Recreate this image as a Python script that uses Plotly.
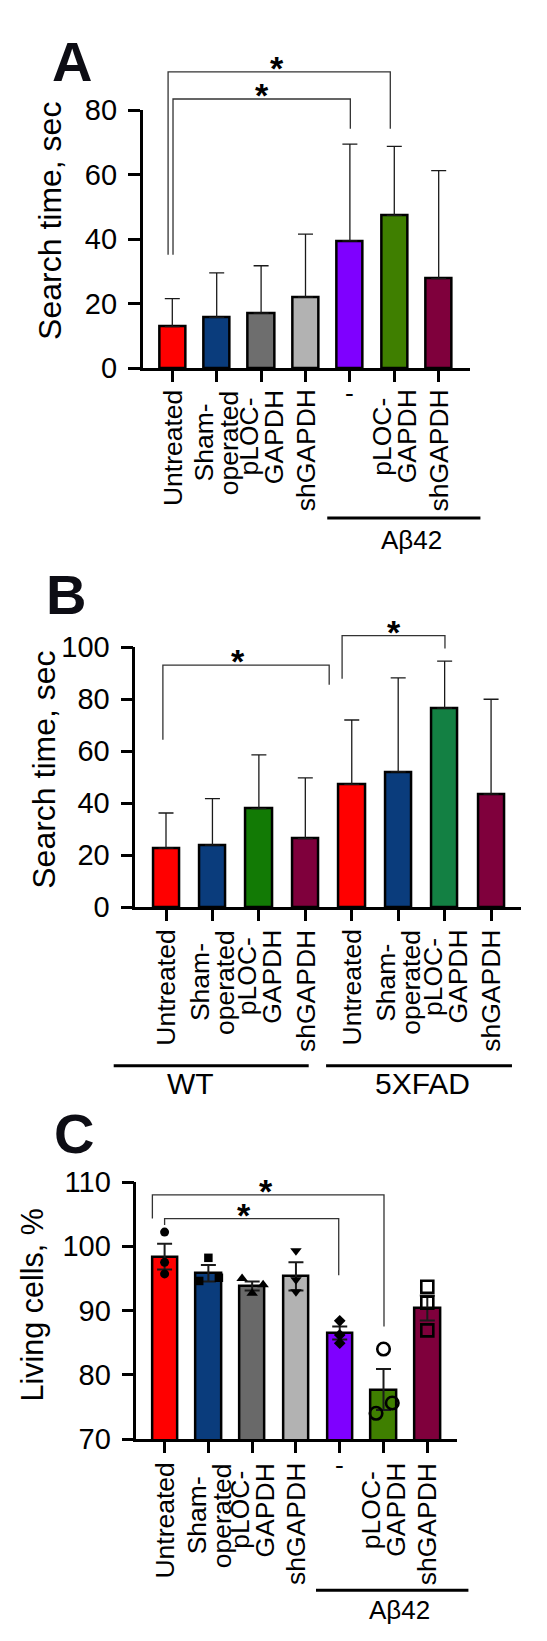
import plotly.graph_objects as go

W, H = 547, 1641
FONT = "Liberation Sans, Arial, sans-serif"

# ---------------- DATA ----------------
# Panel A
a_labels = [["Untreated"], ["Sham-", "operated"], ["pLOC-", "GAPDH"], ["shGAPDH"],
            ["-"], ["pLOC-", "GAPDH"], ["shGAPDH"]]
a_mean = [12.9, 15.8, 17.1, 22.1, 39.5, 47.4, 27.8]
a_upper = [21.6, 29.6, 31.8, 41.6, 69.5, 68.8, 61.3]
a_colors = ["#FF0000", "#0A3C7C", "#6E6E6E", "#B2B2B2", "#7F00FF", "#3F7F00", "#7F003C"]
a_yticks = [0, 20, 40, 60, 80]
a_title = "Search time, sec"
a_groups = [("Aβ42", 3.49, 6.94, 5.39)]
# brackets: x_left, x_right, y_left_end, y_top, y_right_end, star_x
a_brackets = [(-0.095, 4.91, 35.2, 91.9, 74.3, 2.365),
              (0.016, 4.01, 35.2, 83.5, 74.3, 2.01)]

# Panel B
b_labels = [["Untreated"], ["Sham-", "operated"], ["pLOC-", "GAPDH"], ["shGAPDH"],
            ["Untreated"], ["Sham-", "operated"], ["pLOC-", "GAPDH"], ["shGAPDH"]]
b_mean = [22.7, 23.8, 37.9, 26.3, 47.2, 52.0, 76.6, 43.5]
b_upper = [36.2, 41.7, 58.6, 49.7, 72.0, 88.2, 94.7, 80.0]
b_colors = ["#FF0000", "#0A3C7C", "#127A05", "#7F003C", "#FF0000", "#0A3C7C", "#138043", "#7F003C"]
b_yticks = [0, 20, 40, 60, 80, 100]
b_title = "Search time, sec"
b_groups = [("WT", -1.126, 3.073, 0.525), ("5XFAD", 3.447, 7.45, 5.534)]
b_brackets = [(-0.067, 3.514, 64.4, 93.1, 85.6, 1.54),
              (3.792, 6.007, 87.9, 104.5, 99.5, 4.91)]

# Panel C
c_labels = [["Untreated"], ["Sham-", "operated"], ["pLOC-", "GAPDH"], ["shGAPDH"],
            ["-"], ["pLOC-", "GAPDH"], ["shGAPDH"]]
c_mean = [98.4, 95.8, 93.8, 95.3, 86.5, 77.7, 90.4]
c_sem = [2.0, 1.3, 0.7, 2.2, 1.0, 3.2, 1.95]
c_colors = ["#FF0000", "#0A3C7C", "#696969", "#B2B2B2", "#7F00FF", "#3F7F00", "#7F003C"]
c_points = [[102.2, 97.5, 95.7], [98.2, 94.6, 95.1], [95.0, 92.7, 94.0], [99.3, 94.8, 92.9],
            [88.4, 86.2, 84.9], [84.0, 74.0, 75.6], [93.7, 91.2, 86.9]]
c_yticks = [70, 80, 90, 100, 110]
c_title = "Living cells, %"
c_groups = [("Aβ42", 3.458, 6.939, 5.37)]
c_brackets = [(-0.279, 5.011, 104.3, 108.0, 87.5, 2.32),
              (0.0, 3.977, 103.3, 104.3, 95.5, 1.81)]

# ---------------- STYLE / GEOMETRY ----------------
c_jitter = [[0, 0, 0], [0, -0.21, 0.24], [-0.23, 0, 0.25], [0, 0, 0],
            [0, 0, 0], [0, -0.17, 0.2], [0, 0, 0]]
c_symbols = ["circle", "square", "triangle-up", "triangle-down", "diamond",
             "circle-open", "square-open"]
c_msize = [9, 8.5, 10, 10, 9, 12.5, 12]

panels = [
    dict(name="A", ax="", xpx=(134.6, 461.5), ypx=(360.3, 102.3), xr=(-0.669, 6.694),
         yr=(0, 80), bw=0.59, labgap=19.5, dashgap=25, title_px=(41.9, 213), title_fs=32,
         letter_px=(63.7, 53), group_line_py=510, group_lab_py=531.7, group_fs=26),
    dict(name="B", ax="2", xpx=(127.3, 513.4), ypx=(899.0, 639.3), xr=(-0.661, 7.653),
         yr=(0, 100), bw=0.565, labgap=20.7, dashgap=25, title_px=(35.75, 762), title_fs=32,
         letter_px=(58, 586), group_line_py=1057.7, group_lab_py=1075, group_fs=30),
    dict(name="C", ax="3", xpx=(128.4, 449.2), ypx=(1431.0, 1174.0), xr=(-0.644, 6.683),
         yr=(70, 110), bw=0.58, labgap=22, dashgap=26, title_px=(23.5, 1297), title_fs=30.5,
         letter_px=(66, 1125), group_line_py=1582.3, group_lab_py=1601.7, group_fs=26),
]


def pxx(p):
    return p / W


def pxy(p):
    return 1 - p / H


def xd(pn, v):
    r0, r1 = pn["xr"]
    return (v - r0) / (r1 - r0)


def yd(pn, v):
    r0, r1 = pn["yr"]
    return (v - r0) / (r1 - r0)


fig = go.Figure()
annotations = []
shapes = []

TICK_FS = 26.5
LS = 1.3 * TICK_FS
HALF_LINE = 12.5
TRANSP = 'rgba(0,0,0,0)'


def add_panel(pn, labels, mean, err_plus, err_minus, colors, yticks, title, groups, brackets,
              err_thick, err_w):
    ax = pn["ax"]
    xa = "x" + ax
    ya = "y" + ax
    n = len(mean)
    idx = list(range(n))
    fig.add_trace(go.Bar(
        x=idx, y=mean, width=pn["bw"], xaxis=xa, yaxis=ya,
        marker=dict(color=colors, line=dict(color="black", width=2.5)),
        error_y=dict(type="data", array=err_plus, arrayminus=err_minus, symmetric=False,
                     color="#1a1a1a", thickness=err_thick, width=err_w),
        showlegend=False, hoverinfo="skip"))
    lay = {}
    lay["xaxis" + ax] = dict(
        domain=[pxx(pn["xpx"][0]), pxx(pn["xpx"][1])], range=list(pn["xr"]),
        anchor=ya, showline=True, linewidth=2.5, linecolor="black", ticks="outside",
        ticklen=11, tickwidth=2.5, tickcolor="black", tickvals=idx, showticklabels=False,
        showgrid=False, zeroline=False, fixedrange=True)
    lay["yaxis" + ax] = dict(
        domain=[pxy(pn["ypx"][0]), pxy(pn["ypx"][1])], range=list(pn["yr"]),
        anchor=xa, showline=True, linewidth=2.5, linecolor="black", ticks="outside",
        ticklen=12, tickwidth=2.5, tickcolor="black", tickvals=yticks,
        tickfont=dict(family=FONT, size=29, color="black"), ticklabelstandoff=5,
        showgrid=False, zeroline=False, fixedrange=True)
    fig.update_layout(**lay)

    # category labels
    for i, lines in enumerate(labels):
        base = dict(xref=xa, yref=ya + " domain", x=i, y=0, showarrow=False,
                    font=dict(family=FONT, size=TICK_FS, color="black"), xanchor="center")
        if lines == ["-"]:
            annotations.append(dict(base, text="-", textangle=0, yanchor="middle",
                                    yshift=-pn["dashgap"]))
        elif len(lines) == 1:
            annotations.append(dict(base, text=lines[0], textangle=-90, yanchor="top",
                                    yshift=-pn["labgap"]))
        else:
            l1, l2 = lines
            t1 = f'{l1}<br><span style="color:{TRANSP}">{l2}</span>'
            t2 = f'<span style="color:{TRANSP}">{l1}</span><br>{l2}'
            annotations.append(dict(base, text=t1, textangle=-90, yanchor="top", align="center",
                                    yshift=-pn["labgap"], xshift=-HALF_LINE + LS / 2))
            annotations.append(dict(base, text=t2, textangle=-90, yanchor="top", align="center",
                                    yshift=-pn["labgap"], xshift=HALF_LINE - LS / 2))

    # y title
    annotations.append(dict(xref="paper", yref="paper", x=pxx(pn["title_px"][0]),
                            y=pxy(pn["title_px"][1]), text=title, textangle=-90,
                            showarrow=False, xanchor="center", yanchor="middle",
                            font=dict(family=FONT, size=pn["title_fs"], color="black")))
    # panel letter
    annotations.append(dict(xref="paper", yref="paper", x=pxx(pn["letter_px"][0]),
                            y=pxy(pn["letter_px"][1]), text="<b>" + pn["name"] + "</b>",
                            showarrow=False, xanchor="center", yanchor="middle",
                            font=dict(family=FONT, size=56, color="#0d0d14")))
    # group lines
    for lab, g0, g1, gl in groups:
        shapes.append(dict(type="line", xref=xa + " domain", yref="paper",
                           x0=xd(pn, g0), x1=xd(pn, g1),
                           y0=pxy(pn["group_line_py"]), y1=pxy(pn["group_line_py"]),
                           line=dict(color="black", width=3)))
        annotations.append(dict(xref=xa + " domain", yref="paper", x=xd(pn, gl),
                                y=pxy(pn["group_lab_py"]), text=lab, showarrow=False,
                                xanchor="center", yanchor="middle",
                                font=dict(family=FONT, size=pn["group_fs"], color="black")))
    # significance brackets
    for xl, xr_, yl, yt, yr_, sx in brackets:
        path = (f"M{xd(pn, xl)},{yd(pn, yl)} L{xd(pn, xl)},{yd(pn, yt)} "
                f"L{xd(pn, xr_)},{yd(pn, yt)} L{xd(pn, xr_)},{yd(pn, yr_)}")
        shapes.append(dict(type="path", xref=xa + " domain", yref=ya + " domain", path=path,
                           line=dict(color="#333333", width=1.3)))
        annotations.append(dict(xref=xa + " domain", yref=ya + " domain", x=xd(pn, sx),
                                y=yd(pn, yt), text="<b>*</b>", showarrow=False, xanchor="center",
                                yanchor="middle", yshift=4,
                                font=dict(family=FONT, size=34, color="black")))


add_panel(panels[0], a_labels, a_mean, [u - m for u, m in zip(a_upper, a_mean)],
          [0] * len(a_mean), a_colors, a_yticks, a_title, a_groups, a_brackets, 1.3, 7.5)
add_panel(panels[1], b_labels, b_mean, [u - m for u, m in zip(b_upper, b_mean)],
          [0] * len(b_mean), b_colors, b_yticks, b_title, b_groups, b_brackets, 1.3, 7.5)
add_panel(panels[2], c_labels, c_mean, c_sem, c_sem, c_colors, c_yticks, c_title,
          c_groups, c_brackets, 2, 7.5)

# individual points for panel C
for i, pts in enumerate(c_points):
    sym = c_symbols[i]
    is_open = sym.endswith("open")
    fig.add_trace(go.Scatter(
        x=[i + j for j in c_jitter[i]], y=pts, xaxis="x3", yaxis="y3", mode="markers",
        marker=dict(symbol=sym, size=c_msize[i], color="black",
                    line=dict(color="black", width=2.6 if is_open else 0)),
        showlegend=False, hoverinfo="skip", cliponaxis=False))

fig.update_layout(
    width=W, height=H, margin=dict(l=0, r=0, t=0, b=0, autoexpand=False),
    paper_bgcolor="white", plot_bgcolor="white", showlegend=False,
    annotations=annotations, shapes=shapes, bargap=0,
    font=dict(family=FONT, color="black"))

fig.write_html("out.html")
